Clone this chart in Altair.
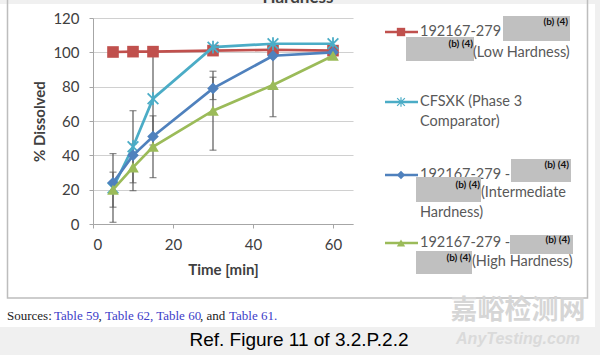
import altair as alt
import pandas as pd

# ---- data ----
time = [5, 10, 15, 30, 45, 60]
low_hard = [100.2, 100.4, 100.4, 101, 101.5, 101]
cfsxk = [21, 45, 73, 103, 105, 105]
inter_hard = [24, 40, 51, 79, 98, 100]
high_hard = [20, 33, 45, 66, 81, 98]

low_err = [0, 0, 0, 0, 0, 0]
cfsxk_err = [20, 21, 27, 0, 0, 0]
inter_err = [0, 0, 0, 6.5, 0, 0]
high_err = [10.2, 13.6, 18, 23, 18.5, 0]

series_keys = ["low", "cfsxk", "inter", "high"]
series_vals = [low_hard, cfsxk, inter_hard, high_hard]
series_errs = [low_err, cfsxk_err, inter_err, high_err]
series_colors = ["#C0504D", "#4BACC6", "#4F81BD", "#9BBB59"]
STAR = "M-1,-1L1,1M-1,1L1,-1M0,-1.2L0,1.2"
series_shapes = ["square", STAR, "diamond", "triangle-up"]

x_ticks = [0, 20, 40, 60]
y_ticks = [0, 20, 40, 60, 80, 100, 120]

FONT = "Lato"
AX = "#404040"
LEG = "#595959"

# page -> plot coordinates (plot area origin at page 93,18)
OX, OY = 93, 18
one = pd.DataFrame({"a": [0]})


def txt(t, X, Y, size=14.5, color=LEG, weight="normal", align="left",
        baseline="middle", font=FONT, style="normal"):
    return alt.Chart(one).mark_text(
        text=t, align=align, baseline=baseline, fontSize=size, font=font,
        color=color, fontWeight=weight, fontStyle=style
    ).encode(x=alt.value(X - OX), y=alt.value(Y - OY))


def box(X1, Y1, X2, Y2, fill):
    return alt.Chart(one).mark_rect(fill=fill, strokeWidth=0).encode(
        x=alt.value(X1 - OX), x2=alt.value(X2 - OX),
        y=alt.value(Y1 - OY), y2=alt.value(Y2 - OY))


xscale = alt.Scale(domain=[0, 65], nice=False, zero=False)
yscale = alt.Scale(domain=[0, 120], nice=False)
xaxis = alt.Axis(values=x_ticks, grid=False, domainColor="#a6a6a6",
                 tickColor="#a6a6a6", tickSize=4, labelFont=FONT,
                 labelFontSize=15, labelColor=AX, labelPadding=9,
                 title="Time [min]", titleFont=FONT, titleFontSize=15,
                 titleFontWeight="bold", titleColor=AX, titleX=130,
                 titleY=45, titleBaseline="middle", titleAlign="center")
yaxis = alt.Axis(values=y_ticks, grid=True, gridColor="#d0d0d0",
                 gridWidth=1.2, domainColor="#a6a6a6", tickColor="#a6a6a6",
                 tickSize=4, labelFont=FONT, labelFontSize=15,
                 labelColor=AX, labelPadding=10, title="% Dissolved",
                 titleFont=FONT, titleFontSize=15, titleFontWeight="bold",
                 titleColor=AX, titleX=-54, titleY=103, titleAngle=270,
                 titleAlign="center", titleBaseline="middle")

layers = []

# background pieces
layers.append(box(0, 0, 600, 4, "#f0f0f0"))
layers.append(box(595, 0, 600, 355, "#f0f0f0"))
layers.append(box(0, 327, 600, 355, "#f0f0f0"))
layers.append(alt.Chart(one).mark_rect(filled=False, stroke="#bdbdbd",
                                       strokeWidth=1.5).encode(
    x=alt.value(7.5 - OX), x2=alt.value(587.5 - OX),
    y=alt.value(-10 - OY), y2=alt.value(298 - OY)))
layers.append(txt("Hardness", 298, 3, size=17, weight="bold", align="center",
                  baseline="alphabetic", color="#404040"))

# error bars
err_rows = []
for vals, errs in zip(series_vals, series_errs):
    for t, v, e in zip(time, vals, errs):
        if e > 0:
            err_rows.append({"time": t, "lo": max(v - e, 0), "hi": v + e})
err_df = pd.DataFrame(err_rows)
ebase = alt.Chart(err_df)
layers.append(ebase.mark_rule(color="#595959", strokeWidth=1.2).encode(
    x=alt.X("time:Q", scale=xscale, axis=xaxis),
    y=alt.Y("lo:Q", scale=yscale, axis=yaxis), y2="hi:Q"))
for f in ["lo", "hi"]:
    layers.append(ebase.mark_tick(orient="horizontal", size=7, thickness=1.2,
                                  color="#595959").encode(
        x=alt.X("time:Q", scale=xscale, axis=xaxis),
        y=alt.Y(f + ":Q", scale=yscale, axis=yaxis)))

# series
for key, vals, col, shp in zip(series_keys, series_vals, series_colors,
                               series_shapes):
    d = pd.DataFrame({"time": time, "val": vals})
    b = alt.Chart(d).encode(x=alt.X("time:Q", scale=xscale, axis=xaxis),
                            y=alt.Y("val:Q", scale=yscale, axis=yaxis))
    layers.append(b.mark_line(color=col, strokeWidth=2.7))
    if shp == STAR:
        layers.append(b.mark_point(shape=shp, filled=False, size=115,
                                   color=col, strokeWidth=1.8, opacity=1))
    else:
        layers.append(b.mark_point(shape=shp, filled=True, size=135,
                                   color=col, opacity=1))

# legend
leg_y = [32, 102, 175, 243]
for col, shp, ly in zip(series_colors, series_shapes, leg_y):
    layers.append(alt.Chart(one).mark_rule(color=col, strokeWidth=2.6).encode(
        x=alt.value(385 - OX), x2=alt.value(418 - OX), y=alt.value(ly - OY)))
    if shp == STAR:
        layers.append(alt.Chart(one).mark_point(
            shape=shp, filled=False, size=60, color=col, strokeWidth=1.2,
            opacity=1).encode(x=alt.value(401 - OX), y=alt.value(ly - OY)))
    else:
        layers.append(alt.Chart(one).mark_point(
            shape=shp, filled=True, size=70, color=col, opacity=1).encode(
            x=alt.value(401 - OX), y=alt.value(ly - OY)))

GRAY = "#c0c0c0"
# low hardness
layers.append(txt("192167-279 -", 420, 32))
layers.append(box(503, 16, 570, 41, GRAY))
layers.append(txt("(b) (4)", 568, 22, size=10, weight="bold", align="right",
                  color="#111111"))
layers.append(box(406, 37, 474, 61, GRAY))
layers.append(txt("(b) (4)", 473, 44, size=10, weight="bold", align="right",
                  color="#111111"))
layers.append(txt("(Low Hardness)", 473, 53))
# comparator
layers.append(txt("CFSXK (Phase 3", 420, 102))
layers.append(txt("Comparator)", 420, 122))
# intermediate
layers.append(txt("192167-279 -", 420, 175))
layers.append(box(511, 159, 571, 182, GRAY))
layers.append(txt("(b) (4)", 569, 165, size=10, weight="bold", align="right",
                  color="#111111"))
layers.append(box(416, 177, 481, 202, GRAY))
layers.append(txt("(b) (4)", 480, 185, size=10, weight="bold", align="right",
                  color="#111111"))
layers.append(txt("(Intermediate", 481, 193))
layers.append(txt("Hardness)", 420, 213))
# high
layers.append(txt("192167-279 -", 420, 243))
layers.append(box(510, 235, 573, 254, GRAY))
layers.append(txt("(b) (4)", 570, 240, size=10, weight="bold", align="right",
                  color="#111111"))
layers.append(box(416, 251, 472, 274, GRAY))
layers.append(txt("(b) (4)", 471, 258, size=10, weight="bold", align="right",
                  color="#111111"))
layers.append(txt("(High Hardness)", 472, 262))

# sources line
SERIF = "Liberation Serif"
BLUE = "#3c3cc8"
src_parts = [("Sources:", 7, "#222222"), ("Table 59", 54, BLUE),
             (",", 98.5, "#222222"), ("Table 62, Table 60", 105, BLUE),
             (", and", 200, "#222222"), ("Table 61.", 229, BLUE)]
for t, X, c in src_parts:
    layers.append(txt(t, X, 316, size=13, font=SERIF, color=c))

# watermark
layers.append(txt("嘉峪检测网", 518, 311, size=27, font="Noto Sans CJK SC",
                  color="#d6d6d6", align="center", weight="bold"))
layers.append(txt("AnyTesting.com", 518, 339, size=16,
                  font="Liberation Sans", color="#dadada", align="center",
                  weight="bold", style="italic"))

# caption
layers.append(txt("Ref. Figure 11 of 3.2.P.2.2", 299, 340, size=19,
                  font="Liberation Sans", color="#000000", align="center"))

chart = alt.layer(*layers).properties(
    width=260, height=206,
    autosize=alt.AutoSizeParams(type="none"),
    padding={"left": 93, "top": 18, "right": 247, "bottom": 131},
    background="white",
).configure_view(stroke=None)

chart.save("out.html", embed_options={"renderer": "svg", "actions": False})
